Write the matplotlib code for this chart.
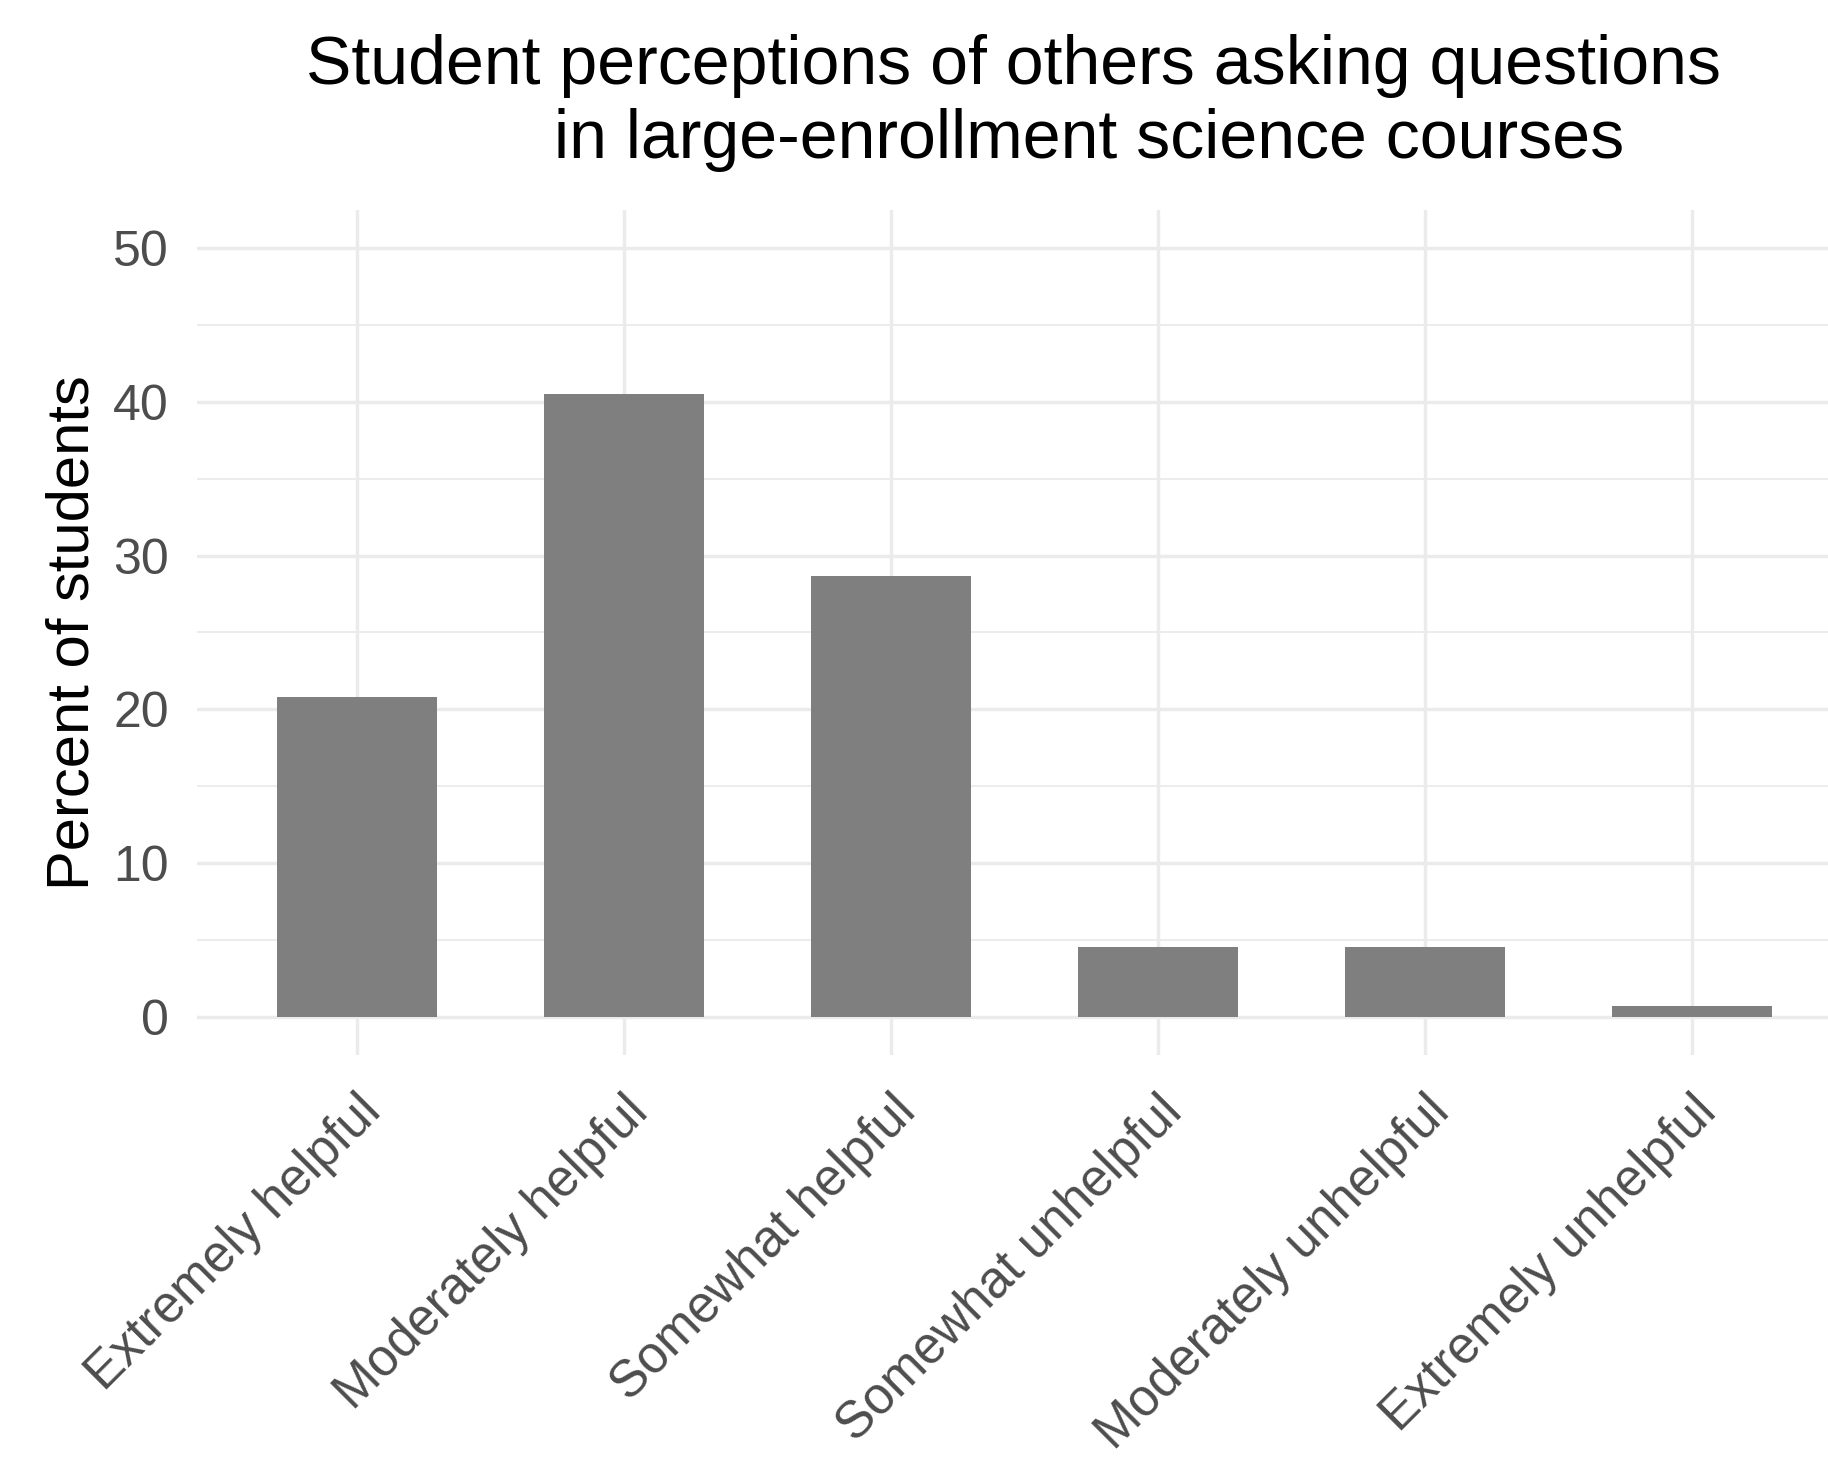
import matplotlib
matplotlib.use("Agg")
import matplotlib.pyplot as plt
from matplotlib.ticker import MultipleLocator

plt.rcParams['font.family'] = ['Liberation Sans', 'DejaVu Sans']

# Datos
categorias = ["Extremely helpful", "Moderately helpful", "Somewhat helpful",
              "Somewhat unhelpful", "Moderately unhelpful", "Extremely unhelpful"]
porcentajes = [20.8, 40.5, 28.7, 4.5, 4.5, 0.7]

titulo = ("Student perceptions of others asking questions\n"
          "        in large-enrollment science courses")

fig = plt.figure(figsize=(18.28, 14.6), dpi=100)
ax = fig.add_axes([0.1075, 0.2774, 0.9056, 0.5789])

x = range(1, len(categorias) + 1)
ax.bar(x, porcentajes, width=0.6, color='#7f7f7f', zorder=2)

ax.set_xlim(0.4, 6.6)
ax.set_ylim(-2.5, 52.5)
ax.set_xticks(list(x))
ax.set_xticklabels(categorias, rotation=45, ha='right', va='top',
                   rotation_mode='anchor', fontsize=37, color='#4d4d4d')
ax.yaxis.set_major_locator(MultipleLocator(10))
ax.yaxis.set_minor_locator(MultipleLocator(5))
ax.tick_params(axis='y', which='major', labelsize=36, labelcolor='#4d4d4d', length=0, pad=20)
ax.tick_params(axis='y', which='minor', length=0)
ax.tick_params(axis='x', length=0, pad=23)

# Rejilla estilo theme_minimal
ax.grid(which='major', color='#ebebeb', linewidth=2.5, zorder=0)
ax.grid(which='minor', axis='y', color='#ebebeb', linewidth=1.3, zorder=0)
ax.set_axisbelow(True)
for s in ax.spines.values():
    s.set_visible(False)

ax.set_ylabel("Percent of students", fontsize=43, color='black')
ax.yaxis.set_label_coords(-0.058, 0.5)

fig.text(0.5547, 0.977, titulo, ha='center', va='top', fontsize=49,
         multialignment='center', color='black')

fig.savefig("out.png", dpi=100, facecolor='white')
